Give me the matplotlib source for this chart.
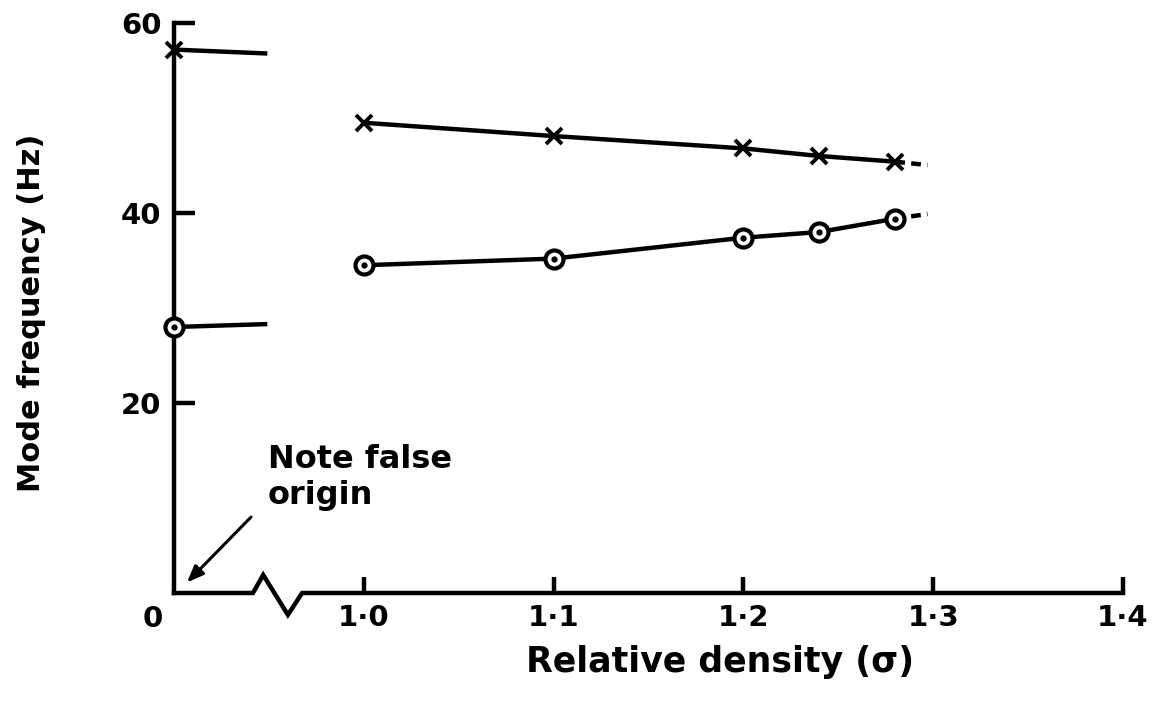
import matplotlib
matplotlib.use("Agg")
import matplotlib.pyplot as plt

# density values (1.0 .. 1.28); the false origin sits at 0.9 on the axis
density = [1.0, 1.1, 1.2, 1.24, 1.28]
freq_cross = [49.5, 48.1, 46.8, 46.0, 45.4]
freq_circle = [34.5, 35.2, 37.4, 38.0, 39.4]

# dashed extrapolation past the last point
extra_x = [1.28, 1.297]
extra_cross = [45.4, 45.05]
extra_circle = [39.4, 39.9]

# values at sigma = 0, drawn as short stubs from the false origin
origin_x = [0.9, 0.948]
origin_cross = [57.2, 56.8]
origin_circle = [28.0, 28.3]

xticks = [1.0, 1.1, 1.2, 1.3, 1.4]
xtick_labels = ["1·0", "1·1", "1·2", "1·3", "1·4"]
yticks = [20, 40, 60]

plt.rcParams["font.family"] = ["DejaVu Sans"]
W, H = 1163, 705
fig = plt.figure(figsize=(W / 100, H / 100), dpi=100)
ax = fig.add_axes([174 / W, (H - 593) / H, (1123 - 174) / W, (593 - 23) / H])
ax.set_xlim(0.9, 1.4)
ax.set_ylim(0, 60)

lw = 3.2
for s in ["top", "right", "bottom"]:
    ax.spines[s].set_visible(False)
ax.spines["left"].set_linewidth(lw)

# bottom axis with a zig-zag break
brk_x = [0.9, 0.9416, 0.947, 0.960, 0.9675, 1.4]
brk_y = [0, 0, 1.9, -2.3, 0, 0]
ax.plot(brk_x, brk_y, color="black", lw=lw, clip_on=False, solid_joinstyle="miter")

ax.set_xticks(xticks)
ax.set_xticklabels(xtick_labels)
ax.set_yticks(yticks)
ax.tick_params(axis="x", direction="in", length=11.5, width=lw, pad=8, labelsize=21)
ax.tick_params(axis="y", direction="in", length=15, width=lw, pad=9, labelsize=21)
for t in ax.get_xticklabels() + ax.get_yticklabels():
    t.set_fontweight("bold")
ax.text(0.9 - 0.006, -2.7, "0", ha="right", va="center", fontsize=21, fontweight="bold",
        clip_on=False)

mk = dict(color="black", lw=lw, clip_on=False)
# sigma = 0 stubs
ax.plot(origin_x, origin_cross, **mk)
ax.plot(origin_x, origin_circle, **mk)
ax.plot(origin_x[0], origin_cross[0], marker="x", ms=12, mew=2.8, color="black", clip_on=False)
ax.plot(origin_x[0], origin_circle[0], marker="o", ms=13, mew=3, mfc="white", mec="black", clip_on=False, zorder=4)
ax.plot(origin_x[0], origin_circle[0], marker="o", ms=3.5, color="black", clip_on=False, zorder=5)

# main curves
ax.plot(density, freq_cross, marker="x", ms=12, mew=2.8, **mk)
ax.plot(extra_x, extra_cross, ls=(0, (2.2, 1.4)), color="black", lw=lw)
ax.plot(extra_x, extra_circle, ls=(0, (2.2, 1.4)), color="black", lw=lw)
ax.plot(density, freq_circle, marker="o", ms=13, mew=3, mfc="white", mec="black", zorder=4, **mk)
ax.plot(density, freq_circle, ls="none", marker="o", ms=3.5, color="black", zorder=5)

# annotation for the false origin
ax.text(0.9495, 15.7, "Note false\norigin", ha="left", va="top", fontsize=23,
        fontweight="bold", linespacing=1.2)
ax.annotate("", xy=(0.9058, 0.9), xytext=(0.9416, 8.2),
            arrowprops=dict(arrowstyle="-|>,head_length=1.0,head_width=0.4",
                            color="black", lw=2.2))

fig.text(32 / W, 1 - 313 / H, "Mode frequency (Hz)", rotation=90, ha="center", va="center",
         fontsize=22, fontweight="bold")
fig.text(720 / W, 1 - 662 / H, "Relative density (σ)", ha="center", va="center",
         fontsize=25, fontweight="bold")

fig.savefig("out.png", dpi=100)
